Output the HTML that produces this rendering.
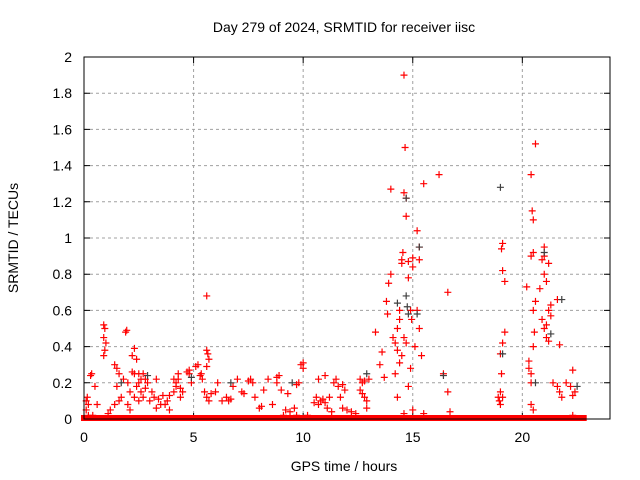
<!DOCTYPE html>
<html><head><meta charset="utf-8"><style>
body{margin:0;background:#fff}
svg{display:block;font-family:"Liberation Sans",sans-serif}
</style></head><body>
<svg id="chart" width="640" height="480" viewBox="0 0 640 480">
<text x="344" y="32" font-size="14" text-anchor="middle">Day 279 of 2024, SRMTID for receiver iisc</text>
<text x="344" y="471" font-size="14" text-anchor="middle">GPS time / hours</text>
<text transform="translate(18,238) rotate(-90)" font-size="14" text-anchor="middle">SRMTID / TECUs</text>
<g id="grid"></g>
<g id="ticks"></g>
<g id="marks"></g>
<rect x="84" y="57" width="526" height="362" fill="none" stroke="#000" stroke-width="1"/>
</svg>
<script>
const xTicks=[0,5,10,15,20];
const yTicks=[0,0.2,0.4,0.6,0.8,1,1.2,1.4,1.6,1.8,2];
const yTickLabels=["0","0.2","0.4","0.6","0.8","1","1.2","1.4","1.6","1.8","2"];
const zeroSegments=[[0,1.9],[1.95,4.0],[4.05,9.3],[9.35,11.3],[11.35,12.6],[12.65,14.8],[14.85,22.8]];
const redX=[0.1,0.1,0.2,0.3,0.35,0.4,0.5,0.2,0.6,0.15,0.9,0.95,0.9,0.95,1.0,0.9,1.2,1.1,1.4,1.5,1.6,1.5,1.6,1.4,1.7,1.8,1.9,1.95,2.0,2.1,2.2,2.3,2.2,2.3,2.4,2.5,2.4,2.5,2.6,2.6,2.7,2.8,2.9,2.7,2.8,2.5,2.3,2.1,2.0,3.0,3.1,3.2,3.3,3.4,3.5,3.3,3.6,3.7,3.8,3.9,3.9,4.1,4.2,4.2,4.3,4.3,4.4,4.4,4.1,4.5,4.7,4.8,4.8,4.9,5.1,5.2,5.3,5.4,5.35,5.6,5.6,5.65,5.7,5.6,5.5,5.6,5.7,5.8,6.0,6.1,6.3,6.5,6.6,6.7,6.8,7.0,7.2,7.3,7.5,7.6,7.7,7.8,8.0,8.1,8.2,8.4,8.6,8.8,8.9,8.8,9.0,9.1,9.2,9.3,9.4,9.6,9.7,9.8,9.9,10.0,10.0,9.7,10.2,10.5,10.6,10.7,10.7,10.8,10.9,11.0,11.1,11.0,11.2,11.3,11.4,11.5,11.6,11.7,11.8,11.8,11.9,12.0,12.2,12.4,12.6,12.7,12.8,12.9,12.7,12.8,12.9,13.0,12.6,13.3,13.5,13.6,13.7,13.8,13.85,13.9,14.0,14.0,14.1,14.2,14.3,14.4,14.4,14.5,14.5,14.55,14.6,14.6,14.65,14.7,14.7,14.8,14.8,14.9,14.95,14.9,15.0,15.0,15.1,15.2,15.3,15.3,15.2,15.3,15.4,15.5,15.5,14.5,14.4,14.3,14.2,14.6,14.7,14.8,15.0,14.3,14.6,16.2,16.4,16.6,16.6,16.7,18.9,19.0,18.95,19.1,19.05,19.1,19.2,19.2,19.1,19.0,19.05,19.0,19.1,20.2,20.3,20.3,20.4,20.4,20.45,20.5,20.5,20.4,20.5,20.6,20.6,20.55,20.5,20.4,20.4,20.5,20.8,20.9,21.0,21.0,21.0,21.1,20.9,21.0,21.1,21.2,21.3,21.2,21.1,21.2,21.3,21.4,21.6,21.7,21.6,21.7,21.8,22.0,22.2,22.3,22.3,22.4,22.3];
const redY=[0.1,0.05,0.08,0.24,0.25,0.02,0.18,0.02,0.08,0.12,0.52,0.5,0.45,0.38,0.42,0.35,0.05,0.03,0.3,0.28,0.25,0.18,0.1,0.08,0.12,0.22,0.48,0.49,0.2,0.15,0.26,0.25,0.35,0.39,0.33,0.25,0.18,0.2,0.22,0.15,0.12,0.17,0.2,0.25,0.22,0.1,0.12,0.05,0.08,0.1,0.15,0.12,0.06,0.11,0.08,0.22,0.13,0.08,0.1,0.13,0.05,0.15,0.18,0.2,0.22,0.25,0.17,0.12,0.22,0.15,0.26,0.27,0.25,0.2,0.29,0.3,0.24,0.22,0.25,0.68,0.38,0.36,0.33,0.29,0.15,0.12,0.1,0.14,0.15,0.2,0.1,0.12,0.1,0.11,0.18,0.22,0.15,0.14,0.21,0.22,0.2,0.12,0.06,0.07,0.16,0.22,0.08,0.23,0.24,0.2,0.16,0.02,0.05,0.14,0.04,0.06,0.19,0.2,0.3,0.28,0.31,0.02,0.02,0.09,0.12,0.08,0.22,0.1,0.11,0.09,0.06,0.24,0.12,0.04,0.2,0.22,0.18,0.12,0.06,0.19,0.16,0.05,0.04,0.03,0.22,0.2,0.12,0.1,0.14,0.21,0.06,0.22,0.16,0.48,0.3,0.37,0.23,0.65,0.58,0.75,0.8,1.27,0.45,0.42,0.5,0.55,0.6,0.86,0.88,0.92,1.25,1.9,1.5,1.22,1.12,0.78,0.87,0.6,0.55,0.28,0.84,0.89,0.4,1.04,0.95,0.88,0.6,0.5,0.35,1.3,0.03,0.35,0.31,0.38,0.25,0.45,0.42,0.18,0.05,0.12,0.03,1.35,0.25,0.7,0.15,0.04,0.12,0.08,0.1,0.97,0.94,0.82,0.76,0.48,0.42,0.36,0.25,0.15,0.12,0.73,0.32,0.28,0.25,1.35,1.15,1.1,0.92,0.9,0.6,1.52,0.65,0.48,0.4,0.2,0.08,0.05,0.72,0.88,0.9,0.95,0.8,0.76,0.55,0.5,0.45,0.43,0.63,0.6,0.52,0.86,0.57,0.2,0.66,0.41,0.18,0.15,0.12,0.2,0.18,0.27,0.13,0.15,0.02];
const greyX=[14.7,14.75,14.8,14.7,15.3,15.2,19.0,19.1,20.6,21.0,21.3,21.8,12.9,2.9,1.7,4.9,9.5,6.7,14.3,16.4,22.5];
const greyY=[0.68,0.62,0.58,1.22,0.95,0.58,1.28,0.36,0.2,0.92,0.47,0.66,0.25,0.24,0.2,0.23,0.2,0.2,0.64,0.24,0.18];

const NS="http://www.w3.org/2000/svg";
const X0=84,X1=610,Y0=419,Y1=57,XMAX=24,YMAX=2;
function sx(v){return X0+v/XMAX*(X1-X0);}
function sy(v){return Y0-v/YMAX*(Y0-Y1);}
const grid=document.getElementById('grid'),ticks=document.getElementById('ticks'),marks=document.getElementById('marks');
function mk(tag,attrs,parent){const e=document.createElementNS(NS,tag);for(const k in attrs)e.setAttribute(k,attrs[k]);parent.appendChild(e);return e;}
xTicks.forEach(t=>{
  const x=sx(t);
  if(t>0){const g=mk('line',{x1:x,x2:x,y1:Y1,y2:Y0,stroke:'#a0a0a0','stroke-dasharray':'3,3'},grid);
  
  }
  const tk=mk('path',{d:`M${x},${Y0}v-6M${x},${Y1}v6`,stroke:'#000'},ticks);
  
  
  const lb=mk('text',{x:x,y:Y0+23,'font-size':14,'text-anchor':'middle'},ticks);lb.textContent=String(t);
  
  
});
yTicks.forEach((t,i)=>{
  const y=sy(t);
  if(t>0&&t<YMAX){const g=mk('line',{x1:X0,x2:X1,y1:y,y2:y,stroke:'#a0a0a0','stroke-dasharray':'3,3'},grid);
  
  }
  const tk=mk('path',{d:`M${X0},${y}h6M${X1},${y}h-6`,stroke:'#000'},ticks);
  
  
  const lb=mk('text',{x:X0-12,y:y+5,'font-size':14,'text-anchor':'end'},ticks);lb.textContent=yTickLabels[i];
  
  
});
zeroSegments.forEach(s=>{
  const r=mk('rect',{x:sx(s[0])-3,y:sy(0)-4,width:sx(s[1])-sx(s[0])+6,height:6,fill:'#f00'},marks);
  
  
});
function plus(x,y,c){
  const p=mk('path',{d:`M${sx(x)-3.5},${sy(y)}h7M${sx(x)},${sy(y)-3.5}v7`,stroke:c,'stroke-width':1.2},marks);
  return p;
}
redX.forEach((x,i)=>{const p=plus(x,redY[i],'#f00');
  
  });
greyX.forEach((x,i)=>{const p=plus(x,greyY[i],'#404040');
  
  });
</script>
</body></html>
